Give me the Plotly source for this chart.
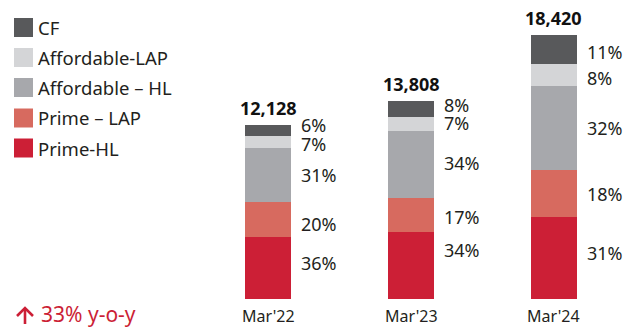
import plotly.graph_objects as go

# Loan book by segment (Rs crore) and mix share (%)
periods = ["Mar'22", "Mar'23", "Mar'24"]
totals = [12128, 13808, 18420]
segments = ["Prime-HL", "Prime – LAP", "Affordable – HL", "Affordable-LAP", "CF"]
share_prime_hl = [36, 34, 31]
share_prime_lap = [20, 17, 18]
share_afford_hl = [31, 34, 32]
share_afford_lap = [7, 7, 8]
share_cf = [6, 8, 11]
growth_text = "33% y-o-y"

shares = [share_prime_hl, share_prime_lap, share_afford_hl, share_afford_lap, share_cf]
colors = ["#CC1F36", "#D76A5F", "#A7A8AC", "#D4D5D7", "#58595B"]
red = "#CC1F36"
text_color = "#231F20"
font_family = "Noto Sans"

# Figure geometry (pixels)
W, H = 630, 327
ML, MR, MT, MB = 197, 5, 10, 28
PW, PH = W - ML - MR, H - MT - MB
YMAX = 20200


def px_x(px):
    return (px - ML) / PW


def px_y(py):
    return (H - MB - py) / PH


x = list(range(len(periods)))
fig = go.Figure()

# Segment values derived from total x share, normalised so the stack sums to the total
seg_values = []
for i in range(len(periods)):
    col = [s[i] for s in shares]
    ssum = sum(col)
    seg_values.append([totals[i] * v / ssum for v in col])

for k, name in enumerate(segments):
    fig.add_trace(go.Bar(
        x=x, y=[seg_values[i][k] for i in range(len(periods))],
        name=name, marker=dict(color=colors[k], line=dict(width=0)),
        width=0.323, showlegend=False, hoverinfo="skip",
    ))

annotations = []
# small pixel nudges (up is positive) so labels on thin segments stay apart
label_shift = [
    [4.5, -4.5, 0, -2, 5.5],
    [15, -1.5, 2, 1.5, 4],
    [5, 0, 0, -3, -2],
]
for i in range(len(periods)):
    base = 0
    for k in range(len(segments)):
        v = seg_values[i][k]
        annotations.append(dict(
            x=x[i] + 0.161, y=base + v / 2, xref="x", yref="y",
            text=f"{shares[k][i]}%", showarrow=False,
            xanchor="left", yanchor="middle", xshift=9, yshift=label_shift[i][k],
            borderpad=0,
            font=dict(size=18, color=text_color, family=font_family),
        ))
        base += v
    annotations.append(dict(
        x=x[i], y=totals[i], xref="x", yref="y",
        text=f"<b>{totals[i]:,}</b>", showarrow=False,
        xanchor="center", yanchor="bottom", yshift=3,
        font=dict(size=18, color="#111111", family=font_family),
    ))
    annotations.append(dict(
        x=x[i], y=px_y(316), xref="x", yref="paper",
        text=periods[i], showarrow=False,
        xanchor="center", yanchor="middle",
        font=dict(size=16, color=text_color, family=font_family),
    ))

# Legend drawn as swatches + labels, top entry is the top of the stack
shapes = []
row_y = [27.5, 57.5, 87.5, 118, 148]
for r, k in enumerate(reversed(range(len(segments)))):
    cy = row_y[r]
    shapes.append(dict(
        type="rect", xref="paper", yref="paper",
        x0=px_x(14), x1=px_x(33), y0=px_y(cy + 9.5), y1=px_y(cy - 9.5),
        fillcolor=colors[k], line=dict(width=0),
    ))
    annotations.append(dict(
        x=px_x(36), y=px_y(cy), xref="paper", yref="paper",
        text=segments[k], showarrow=False, xanchor="left", yanchor="middle",
        font=dict(size=18.5, color=text_color, family=font_family),
    ))

# Growth callout: upward arrow plus text
shapes.append(dict(
    type="line", xref="paper", yref="paper",
    x0=px_x(25), x1=px_x(25), y0=px_y(324), y1=px_y(308),
    line=dict(color=red, width=2.6),
))
shapes.append(dict(
    type="path", xref="paper", yref="paper",
    path=(f"M {px_x(17)},{px_y(316)} L {px_x(25)},{px_y(308)} "
          f"L {px_x(33)},{px_y(316)}"),
    line=dict(color=red, width=2.6),
))
annotations.append(dict(
    x=px_x(40), y=px_y(313.5), xref="paper", yref="paper",
    text=growth_text, showarrow=False, xanchor="left", yanchor="middle",
    borderpad=0,
    font=dict(size=21, color=red, family=font_family),
))

fig.update_layout(
    width=W, height=H,
    margin=dict(l=ML, r=MR, t=MT, b=MB),
    barmode="stack",
    paper_bgcolor="white", plot_bgcolor="white",
    xaxis=dict(range=[-0.5, 2.5], visible=False, fixedrange=True),
    yaxis=dict(range=[0, YMAX], visible=False, fixedrange=True),
    annotations=annotations, shapes=shapes,
    showlegend=False,
)

fig.write_html("out.html")
